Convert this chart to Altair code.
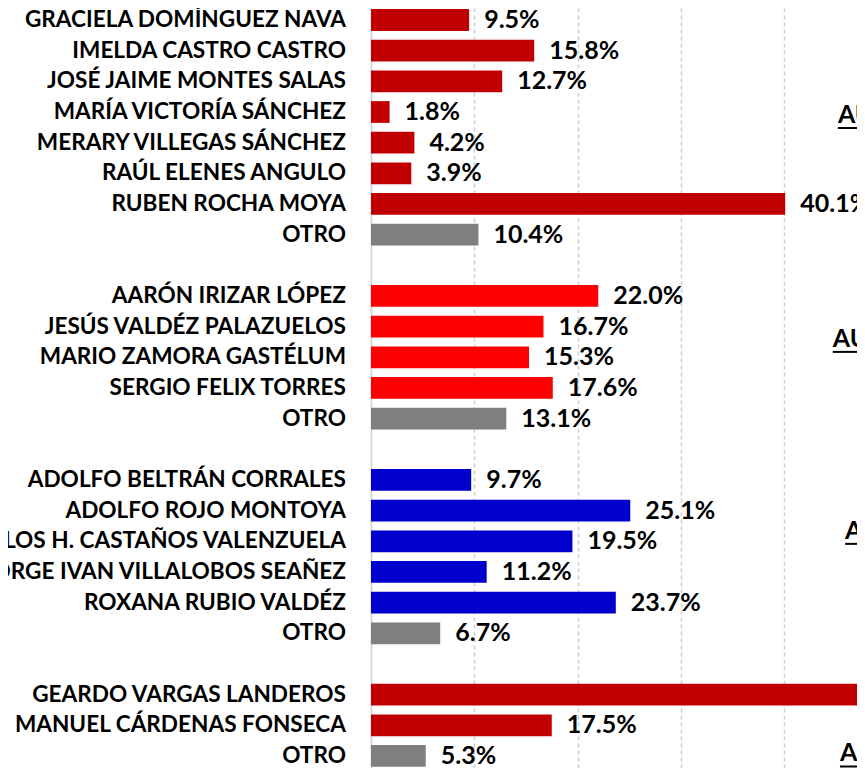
import altair as alt
import pandas as pd

# ---- data ----
group_names = [
    ["GRACIELA DOMÍNGUEZ NAVA", "IMELDA CASTRO CASTRO", "JOSÉ JAIME MONTES SALAS",
     "MARÍA VICTORÍA SÁNCHEZ", "MERARY VILLEGAS SÁNCHEZ", "RAÚL ELENES ANGULO",
     "RUBEN ROCHA MOYA", "OTRO"],
    ["AARÓN IRIZAR LÓPEZ", "JESÚS VALDÉZ PALAZUELOS", "MARIO ZAMORA GASTÉLUM",
     "SERGIO FELIX TORRES", "OTRO"],
    ["ADOLFO BELTRÁN CORRALES", "ADOLFO ROJO MONTOYA", "CARLOS H. CASTAÑOS VALENZUELA",
     "JORGE IVAN VILLALOBOS SEAÑEZ", "ROXANA RUBIO VALDÉZ", "OTRO"],
    ["GEARDO VARGAS LANDEROS", "MANUEL CÁRDENAS FONSECA", "OTRO"],
]
group_values = [
    [9.5, 15.8, 12.7, 1.8, 4.2, 3.9, 40.1, 10.4],
    [22.0, 16.7, 15.3, 17.6, 13.1],
    [9.7, 25.1, 19.5, 11.2, 23.7, 6.7],
    [77.2, 17.5, 5.3],
]
group_colors = ["#C00000", "#FF0000", "#0000CC", "#C00000"]
other_color = "#7F7F7F"

# right-side group headings (only their first letters are visible)
heading_texts = ["AU", "AÚ", "A", "AU"]
heading_x = [45.2, 44.7, 45.9, 45.4]
heading_row = [3.36, 10.66, 16.92, 24.18]

# ---- build table ----
rows, names, values, colors = [], [], [], []
r = 0
for gi, (nm, vals) in enumerate(zip(group_names, group_values)):
    for n, v in zip(nm, vals):
        rows.append(r)
        names.append(n)
        values.append(v)
        colors.append(other_color if n == "OTRO" else group_colors[gi])
        r += 1
    r += 1  # blank row between groups

df = pd.DataFrame({"row": rows, "name": names, "value": values, "color": colors})
ann = pd.DataFrame({"txt": heading_texts, "hx": heading_x, "hrow": heading_row})

XMAX = 47.05
x_scale = alt.Scale(domain=[0, XMAX], nice=False, zero=False)
y_scale = alt.Scale(domain=[-0.391, 24.392], nice=False, zero=False, reverse=True)

FONT = "Lato"
HALF = 0.355

base = alt.Chart(df).transform_calculate(
    zero="0", y0=f"datum.row - {HALF}", y1=f"datum.row + {HALF}",
    lbl="format(datum.value, '.1f') + '%'"
)

bars = base.mark_rect(clip=True).encode(
    x=alt.X("zero:Q", scale=x_scale,
            axis=alt.Axis(values=[10, 20, 30, 40], grid=True, gridDash=[4, 3],
                          gridColor="#d0d0d0", gridWidth=1.5, labels=False,
                          ticks=False, domain=False, title=None)),
    x2="value:Q",
    y=alt.Y("y0:Q", scale=y_scale,
            axis=alt.Axis(values=[0], labels=False, grid=False, ticks=False,
                          domainColor="#d9d9d9", domainWidth=2, title=None)),
    y2="y1:Q",
    color=alt.Color("color:N", scale=None),
)

names_txt = base.mark_text(
    align="right", baseline="middle", dx=-25, font=FONT, fontSize=22.6,
    fontWeight="bold", color="#000000"
).encode(
    x=alt.X("zero:Q", scale=x_scale),
    y=alt.Y("row:Q", scale=y_scale),
    text="name:N",
)

labels = base.mark_text(
    align="left", baseline="middle", dx=15, font=FONT, fontSize=25,
    fontWeight="bold", color="#000000"
).encode(
    x=alt.X("value:Q", scale=x_scale),
    y=alt.Y("row:Q", scale=y_scale),
    text="lbl:N",
).transform_filter(f"datum.value < {XMAX}")

head = alt.Chart(ann).mark_text(
    align="left", baseline="alphabetic", font=FONT, fontSize=25,
    fontWeight="bold", color="#000000"
).encode(
    x=alt.X("hx:Q", scale=x_scale),
    y=alt.Y("hrow:Q", scale=y_scale),
    text="txt:N",
)

underline = alt.Chart(ann).mark_rule(color="#000000", strokeWidth=2, clip=True).transform_calculate(
    uy="datum.hrow + 0.163", ux2=str(XMAX)
).encode(
    x=alt.X("hx:Q", scale=x_scale),
    x2="ux2:Q",
    y=alt.Y("uy:Q", scale=y_scale),
)

chart = alt.layer(bars, names_txt, labels, head, underline).properties(
    width=486, height=760, autosize="none",
    padding={"left": 363, "top": 0, "right": 0, "bottom": 0},
    background="#ffffff",
).configure_view(stroke=None)

chart.save("out.html", embed_options={"renderer": "svg", "actions": False})
